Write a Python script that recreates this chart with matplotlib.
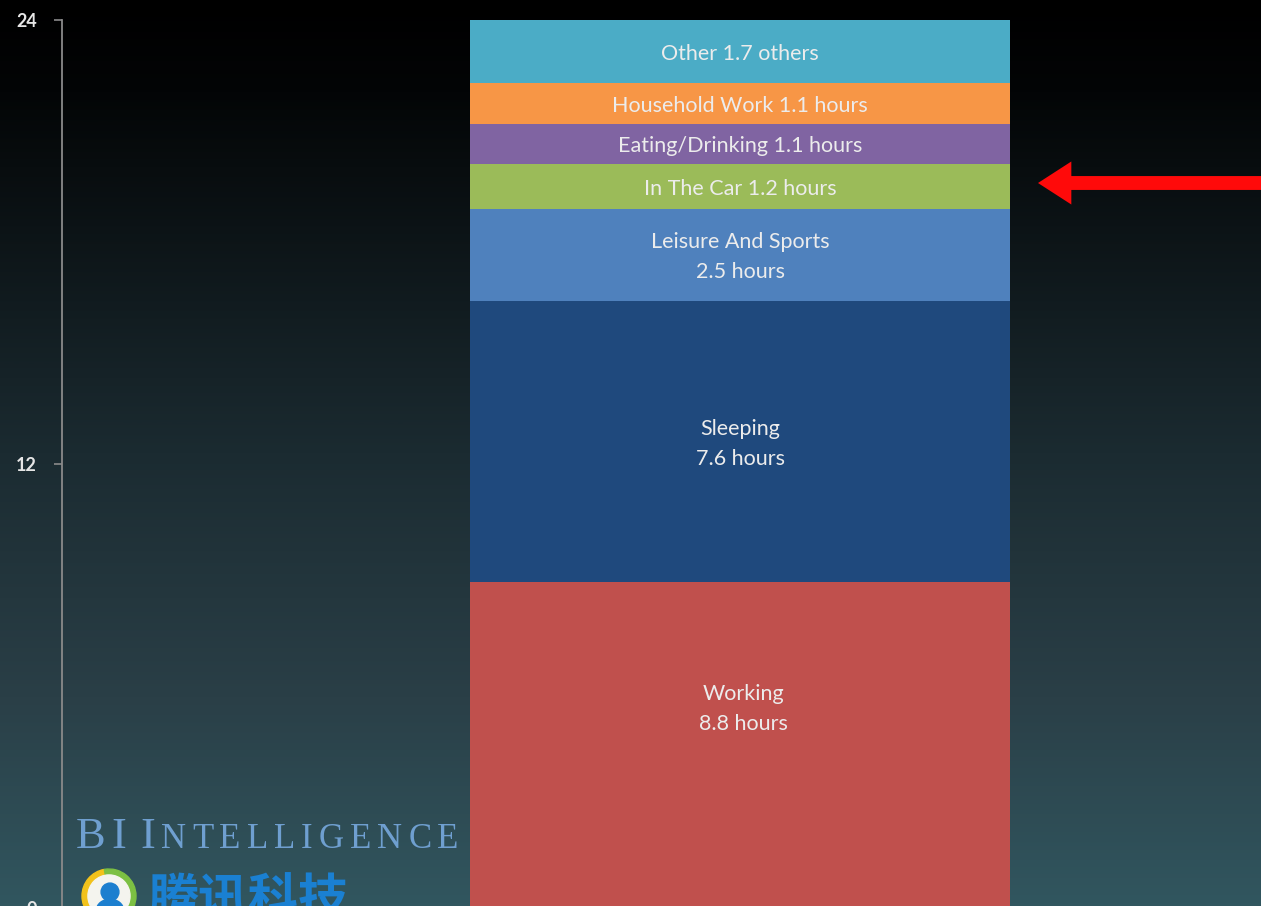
import numpy as np
import matplotlib
matplotlib.use("Agg")
import matplotlib.pyplot as plt
from matplotlib.colors import LinearSegmentedColormap
from matplotlib.patches import FancyArrowPatch, Circle, Wedge, Ellipse

# ---- data ----
categories = ["Working", "Sleeping", "Leisure And Sports", "In The Car",
              "Eating/Drinking", "Household Work", "Other"]
hours = [8.8, 7.6, 2.5, 1.2, 1.1, 1.1, 1.7]
labels = ["Working\n8.8 hours", "Sleeping\n7.6 hours", "Leisure And Sports\n2.5 hours",
          "In The Car 1.2 hours", "Eating/Drinking 1.1 hours",
          "Household Work 1.1 hours", "Other 1.7 others"]
colors = ["#c0504d", "#1f497d", "#4f81bd", "#9bbb59", "#8064a2", "#f79646", "#4bacc6"]
yticks = [0, 12, 24]

W, H = 1261, 906
fig = plt.figure(figsize=(W / 100, H / 100), dpi=100)

# background gradient
bg = fig.add_axes([0, 0, 1, 1])
bg.set_axis_off()
cmap = LinearSegmentedColormap.from_list(
    "bg", [(0.0, "#000000"), (0.1, "#030506"), (0.5, "#1b2b31"),
           (0.77, "#2a3f47"), (1.0, "#31565f")])
grad = np.linspace(0, 1, 512).reshape(-1, 1)
bg.imshow(grad, aspect="auto", cmap=cmap, extent=[0, 1, 1, 0])
bg.set_xlim(0, 1)
bg.set_ylim(1, 0)

# main axes: y=24 at pixel 20, y=0 at pixel 908
ax_left = 62 / W
ax_bottom = (H - 908) / H
ax_h = 888 / H
ax = fig.add_axes([ax_left, ax_bottom, 1 - ax_left, ax_h])
ax.patch.set_alpha(0)
bar_px = 540
ax.set_xlim(-0.5 - (470 - 62) / bar_px, 0.5 + (W - 1010) / bar_px)
ax.set_ylim(0, 24)

bottom = 0.0
label_offsets = [0.98, -0.05, -0.05, -0.06, -0.06, -0.07, -0.06]
for h, c, lab, off in zip(hours, colors, labels, label_offsets):
    ax.bar(0, h, bottom=bottom, width=1.0, color=c, linewidth=0)
    ax.text(0.006 if off > 0.5 else 0, bottom + h / 2 + off, lab, ha="center", va="center",
            fontsize=15.5, family="Lato", color="#ececec", linespacing=1.62)
    bottom += h

for s in ["top", "right", "bottom"]:
    ax.spines[s].set_visible(False)
ax.spines["left"].set_color("#8a8a8a")
ax.spines["left"].set_linewidth(1.3)
ax.set_xticks([])
ax.set_yticks(yticks)
ax.set_yticklabels([str(t) for t in yticks])
ax.tick_params(axis="y", direction="out", length=6, width=1.2, color="#8a8a8a",
               labelcolor="#e6e6e6", labelsize=13, pad=12)
for t in ax.get_yticklabels():
    t.set_family("Lato")
    t.set_fontweight("bold")

# red arrow pointing to "In The Car"
arrow = FancyArrowPatch((1.0, 1 - 183 / H), (1038 / W, 1 - 183 / H),
                        transform=fig.transFigure,
                        arrowstyle="simple,head_length=2.4,head_width=3.1,tail_width=1.0",
                        mutation_scale=10, color="#ff0a0a", shrinkA=0, shrinkB=0,
                        linewidth=0)
fig.patches.append(arrow)

# watermark: BI INTELLIGENCE in small caps
fig.canvas.draw()
renderer = fig.canvas.get_renderer()
x = 76.0
base_y = 1 - 848 / H
pieces = [("B", 32), ("I", 32), (" ", 22), ("I", 32)] + [(ch, 25) for ch in "NTELLIGENCE"]
for ch, sz in pieces:
    t = fig.text(x / W, base_y, ch, fontsize=sz, family="Liberation Serif",
                 color="#6f9fd0", va="baseline", ha="left")
    wext = t.get_window_extent(renderer)
    x += wext.width + (6.0 if ch != " " else 0)

# logo circle
logo = fig.add_axes([0, 0, 1, 1])
logo.set_axis_off()
logo.set_xlim(0, W)
logo.set_ylim(H, 0)
logo.patch.set_alpha(0)
cx, cy, r = 109, 896, 27
logo.add_patch(Wedge((cx, cy), r, 100, 260, color="#f2c21b"))
logo.add_patch(Wedge((cx, cy), r, 260, 100, color="#7cc043"))
logo.add_patch(Circle((cx, cy), r * 0.78, color="#f4f4ee"))
logo.add_patch(Circle((cx + 1, cy - 4), r * 0.33, color="#1c7fcf"))
logo.add_patch(Ellipse((cx + 1, cy + 14), r * 1.0, r * 0.8, color="#1c7fcf"))

fig.text(148 / W, 1 - 916 / H, "腾讯科技", fontsize=36, family="Noto Sans CJK SC",
         fontweight="bold", color="#1a80d2", va="baseline", ha="left")

fig.savefig("out.png", dpi=100)
